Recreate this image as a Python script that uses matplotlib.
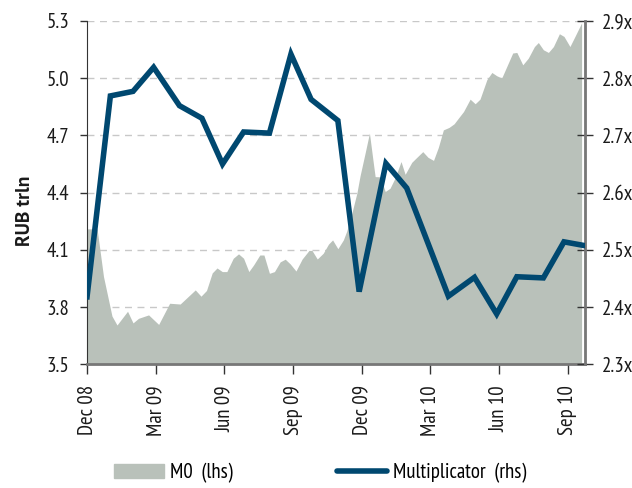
import matplotlib
matplotlib.use("Agg")
import matplotlib.pyplot as plt
from matplotlib.patches import Patch
from matplotlib.lines import Line2D

plt.rcParams['font.family'] = ['PT Sans Narrow', 'DejaVu Sans']

# M0 (lhs), RUB trln - x in months since Dec 08
m0_x = [0.0, 0.44, 0.72, 1.09, 1.31, 1.77, 2.01, 2.25, 2.69, 3.13, 3.61, 4.07, 4.73, 4.98,
        5.22, 5.47, 5.68, 5.91, 6.11, 6.39, 6.62, 6.84, 7.07, 7.28, 7.55, 7.73, 7.97, 8.19,
        8.44, 8.66, 8.88, 9.13, 9.40, 9.70, 9.83, 10.06, 10.32, 10.55, 10.73, 10.96, 11.20,
        11.35, 11.57, 11.79, 11.93, 12.15, 12.34, 12.52, 12.59, 12.81, 13.03, 13.24, 13.46,
        13.72, 13.90, 14.19, 14.41, 14.67, 14.90, 15.14, 15.35, 15.57, 15.82, 16.04, 16.23,
        16.45, 16.74, 16.96, 17.17, 17.47, 17.69, 17.90, 18.12, 18.34, 18.60, 18.78, 19.04,
        19.28, 19.55, 19.72, 19.94, 20.16, 20.38, 20.64, 20.84, 21.10, 21.32, 21.61]
m0_val = [4.21, 4.21, 3.96, 3.753, 3.706, 3.778, 3.717, 3.741, 3.759, 3.709, 3.82, 3.816, 3.89,
          3.857, 3.887, 3.979, 4.005, 3.986, 3.986, 4.056, 4.079, 4.056, 3.986, 4.021, 4.073,
          4.073, 3.977, 3.986, 4.037, 4.051, 4.026, 3.989, 4.052, 4.097, 4.097, 4.052, 4.082,
          4.13, 4.152, 4.106, 4.152, 4.199, 4.292, 4.397, 4.488, 4.607, 4.712, 4.546, 4.484,
          4.483, 4.406, 4.423, 4.477, 4.563, 4.496, 4.559, 4.585, 4.615, 4.585, 4.569, 4.637,
          4.729, 4.742, 4.761, 4.791, 4.825, 4.89, 4.866, 4.89, 4.992, 5.03, 5.013, 5.001,
          5.061, 5.132, 5.135, 5.07, 5.105, 5.166, 5.187, 5.149, 5.135, 5.166, 5.233, 5.219,
          5.166, 5.219, 5.29]

# Multiplicator (rhs)
mult_x = [0.0, 1.02, 2.01, 2.91, 4.04, 5.02, 5.92, 6.84, 7.97, 8.91, 9.79, 10.96, 11.89,
          13.06, 13.97, 15.79, 16.93, 17.90, 18.78, 19.94, 20.84, 21.80]
mult_val = [2.418, 2.769, 2.777, 2.819, 2.752, 2.730, 2.650, 2.706, 2.704, 2.842, 2.763,
            2.726, 2.427, 2.651, 2.608, 2.419, 2.452, 2.388, 2.453, 2.451, 2.514, 2.507]

tick_pos = [0, 3, 6, 9, 12, 15, 18, 21]
tick_labels = ['Dec 08', 'Mar 09', 'Jun 09', 'Sep 09', 'Dec 09', 'Mar 10', 'Jun 10', 'Sep 10']

AREA = '#b9c1ba'
LINE = '#004870'
TXT = '#1a1a1a'

fig = plt.figure(figsize=(6.32, 4.88), dpi=100)
ax = fig.add_axes([0.1377, 0.2535, 0.7887, 0.7035])
ax2 = ax.twinx()

ax.fill_between(m0_x, m0_val, 3.5, color=AREA, lw=0, zorder=2)
ax.set_ylim(3.5, 5.3)
ax.set_yticks([3.5, 3.8, 4.1, 4.4, 4.7, 5.0, 5.3])
ax.set_yticklabels(['3.5', '3.8', '4.1', '4.4', '4.7', '5.0', '5.3'])
ax.set_xlim(0, 21.78)
ax.set_xticks(tick_pos)
ax.set_xticklabels(tick_labels, rotation=90)
ax.yaxis.grid(True, ls=(0, (5, 4)), color='#c8c8c8', lw=1, zorder=0)
ax.set_axisbelow(True)
ax.set_ylabel('RUB trln', fontsize=14, fontweight='bold', color=TXT,
              family=['PT Sans', 'DejaVu Sans'])
ax.yaxis.set_label_coords(-0.106, 0.447)

ax2.plot(mult_x, mult_val, color=LINE, lw=4, solid_joinstyle='miter', zorder=3)
ax2.set_ylim(2.3, 2.9)
ax2.set_yticks([2.3, 2.4, 2.5, 2.6, 2.7, 2.8, 2.9])
ax2.set_yticklabels(['2.3x', '2.4x', '2.5x', '2.6x', '2.7x', '2.8x', '2.9x'])

for a in (ax, ax2):
    a.spines['top'].set_visible(False)
    a.tick_params(labelsize=15, colors=TXT)
ax.spines['left'].set_color('#333333')
ax.spines['bottom'].set_color('#777777')
ax.spines['bottom'].set_linewidth(2)
ax2.spines['right'].set_color('#777777')
ax2.spines['right'].set_linewidth(2)
ax2.spines['left'].set_visible(False)
ax2.spines['bottom'].set_visible(False)
ax.tick_params(axis='y', length=5, width=1, color='#333333', pad=8)
ax.tick_params(axis='x', length=7, width=1, color='#333333', pad=8)
ax2.tick_params(axis='y', direction='inout', length=12, width=1, color='#333333', pad=6)

handles = [Patch(color=AREA), Line2D([0], [0], color=LINE, lw=4, solid_capstyle='round')]
fig.legend(handles, ['M0  (lhs)', 'Multiplicator  (rhs)'], loc='center',
           bbox_to_anchor=(0.506, 0.031), ncol=2, frameon=False, fontsize=15,
           handlelength=2.4, handleheight=0.65, handletextpad=0.3, columnspacing=5.0)

fig.savefig('out.png', dpi=100)
